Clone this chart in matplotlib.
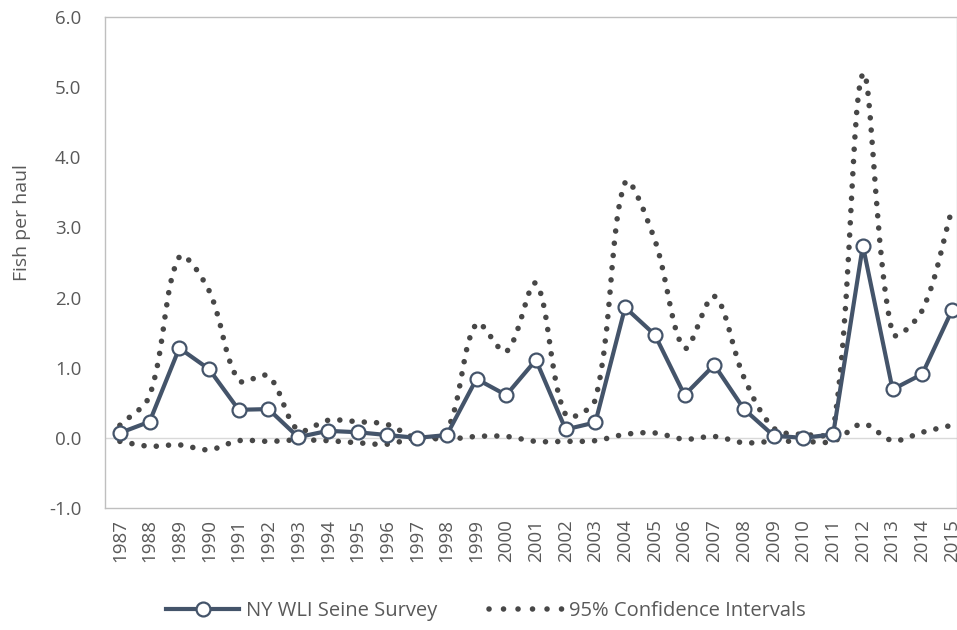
import numpy as np
import matplotlib
matplotlib.use("Agg")
import matplotlib.pyplot as plt
from matplotlib.path import Path
from matplotlib.patches import PathPatch
from matplotlib.lines import Line2D

years = list(range(1987, 2016))
survey = [0.07, 0.23, 1.28, 0.98, 0.40, 0.41, 0.01, 0.10, 0.08, 0.04, 0.00,
          0.04, 0.84, 0.61, 1.11, 0.12, 0.22, 1.86, 1.47, 0.61, 1.04,
          0.41, 0.03, 0.00, 0.05, 2.74, 0.69, 0.91, 1.82]
upper_ci = [0.18, 0.60, 2.58, 2.10, 0.82, 0.88, 0.11, 0.25, 0.23, 0.19, 0.00,
            0.10, 1.63, 1.23, 2.20, 0.33, 0.55, 3.64, 2.82, 1.28, 2.02,
            0.86, 0.14, 0.05, 0.11, 5.19, 1.49, 1.82, 3.26]
lower_ci = [-0.05, -0.12, -0.10, -0.17, -0.04, -0.05, -0.03, -0.04, -0.07, -0.09, 0.00,
            -0.02, 0.02, 0.02, -0.05, -0.05, -0.04, 0.05, 0.07, -0.02, 0.02,
            -0.07, -0.05, -0.05, -0.05, 0.20, -0.04, 0.08, 0.18]
yticks = [-1.0, 0.0, 1.0, 2.0, 3.0, 4.0, 5.0, 6.0]

MAIN = "#44546A"
DOT = "#474747"
GRAY = "#595959"
FONT = ["Open Sans", "DejaVu Sans"]

fig = plt.figure(figsize=(9.57, 6.3), dpi=100)
ax = fig.add_axes([105 / 957, 1 - 508 / 630, 1 - 105 / 957, (508 - 17) / 630])
ax.set_xlim(1986.5, 1986.5 + (957 - 105) / 29.72)
ax.set_ylim(-1.0, 6.0)


def smooth_path(xs, ys, ax):
    # Excel-like smoothed line: Bezier control points with tangents scaled by
    # segment lengths measured in display space (limits overshoot).
    pts = np.column_stack([np.asarray(xs, float), np.asarray(ys, float)])
    disp = ax.transData.transform(pts)
    n = len(pts)
    t = 1.0 / 3.0
    verts = [tuple(pts[0])]
    codes = [Path.MOVETO]
    for i in range(n - 1):
        i0, i3 = max(i - 1, 0), min(i + 2, n - 1)
        d01 = np.linalg.norm(disp[i] - disp[i0])
        d12 = np.linalg.norm(disp[i + 1] - disp[i])
        d23 = np.linalg.norm(disp[i3] - disp[i + 1])
        f1 = t * d12 / (d01 + d12) if d01 + d12 > 0 else 0
        f2 = t * d12 / (d12 + d23) if d12 + d23 > 0 else 0
        c1 = pts[i] + (pts[i + 1] - pts[i0]) * f1
        c2 = pts[i + 1] - (pts[i3] - pts[i]) * f2
        verts += [tuple(c1), tuple(c2), tuple(pts[i + 1])]
        codes += [Path.CURVE4] * 3
    return Path(verts, codes)


LW_DOT = 4.0
DASH = (0, (0.01, 2.2))
for ci in (upper_ci, lower_ci):
    patch = PathPatch(smooth_path(years, ci, ax), facecolor="none", edgecolor=DOT,
                      linewidth=LW_DOT, linestyle=DASH, capstyle="round", zorder=2)
    ax.add_patch(patch)

ax.axhline(0, color="#D9D9D9", linewidth=1.0, zorder=1)
ax.plot(years, survey, color=MAIN, linewidth=3.0, marker="o", markersize=10,
        markerfacecolor="white", markeredgecolor=MAIN, markeredgewidth=1.6, zorder=3,
        clip_on=False)

ax.set_yticks(yticks)
ax.set_yticklabels([f"{v:.1f}" for v in yticks], fontfamily=FONT, fontsize=13.5, color=GRAY)
ax.set_xticks(years)
ax.set_xticklabels([str(y) for y in years], rotation=90, fontfamily=FONT, fontsize=13.5,
                   color=GRAY)
ax.tick_params(axis="y", length=0, pad=17)
ax.tick_params(axis="x", length=0, pad=8)
for s in ax.spines.values():
    s.set_color("#BFBFBF")
    s.set_linewidth(1.0)

fig.text(22 / 957, 1 - 223 / 630, "Fish per haul", rotation=90, ha="center", va="center",
         fontfamily=FONT, fontsize=14, color=GRAY)

handles = [
    Line2D([], [], color=MAIN, linewidth=3.0, marker="o", markersize=10,
           markerfacecolor="white", markeredgecolor=MAIN, markeredgewidth=1.6),
    Line2D([], [], linestyle=(0, (0.01, 2.6)), dash_capstyle="round", linewidth=LW_DOT,
           color=DOT),
]
fig.legend(handles, ["NY WLI Seine Survey", "95% Confidence Intervals"],
           loc="center", bbox_to_anchor=(486 / 957, 1 - 611 / 630), ncol=2, frameon=False,
           prop={"family": FONT, "size": 14.5}, labelcolor=GRAY, handlelength=3.6,
           columnspacing=2.6, handletextpad=0.35)

fig.savefig("out.png", dpi=100)
